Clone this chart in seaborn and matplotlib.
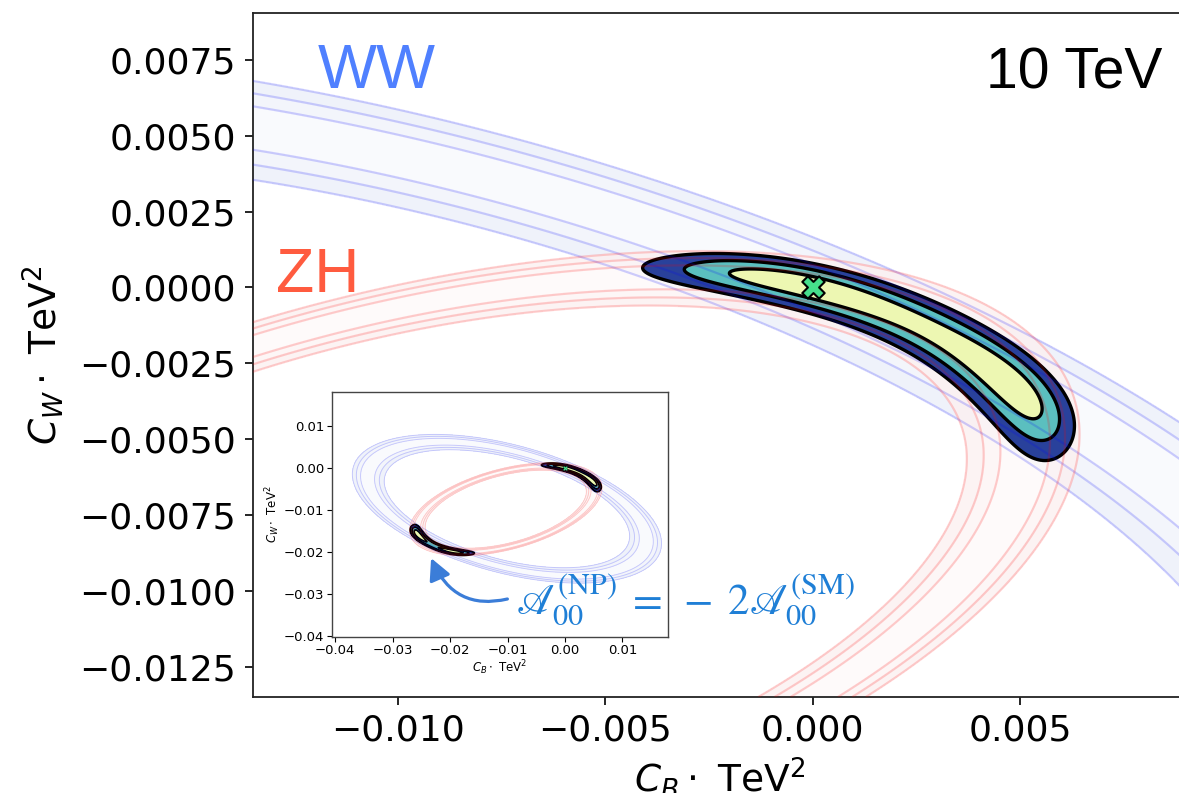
import numpy as np
import matplotlib
matplotlib.use("Agg")
import matplotlib.pyplot as plt
import seaborn as sns
from matplotlib.ticker import MultipleLocator

sns.set_style("ticks")
plt.rcParams["font.family"] = ["DejaVu Sans"]
plt.rcParams["mathtext.fontset"] = "dejavusans"
for key in ("text.color", "axes.labelcolor", "xtick.color", "ytick.color"):
    plt.rcParams[key] = "black"

# Ring of each channel where the cross section equals its SM value:
# centre (units of 1e-3) and quadratic shape [q_BB, q_BW, q_WW]
ZH_CENTER = [-10.308, -9.862]
ZH_SHAPE = [0.005282, -0.003629, 0.012099]
WW_CENTER = [-10.105, -9.757]
WW_SHAPE = [0.002165, 0.001532, 0.005008]

# relative cross-section resolution of each channel
ZH_WIDTH = 0.051
WW_WIDTH = 0.066
FIT_SCALE = 1.2

CHI2_LEVELS = [2.30, 6.18, 11.83]
BEST_CB = [0.0]
BEST_CW = [0.0]

MAIN_XLIM = (-0.0135, 0.009)
MAIN_YLIM = (-0.0135, 0.00905)
INSET_XLIM = (-0.0406, 0.0179)
INSET_YLIM = (-0.0402, 0.0181)


def chi2(X, Y, center, shape, width):
    dx = X * 1e3 - center[0]
    dy = Y * 1e3 - center[1]
    f = shape[0] * dx * dx + 2 * shape[1] * dx * dy + shape[2] * dy * dy - 1.0
    return (f / width) ** 2


def draw_panel(ax, xlim, ylim, n, band_lw, fit_lw):
    xs = np.linspace(*xlim, n)
    ys = np.linspace(*ylim, n)
    X, Y = np.meshgrid(xs, ys)
    chi_ww = chi2(X, Y, WW_CENTER, WW_SHAPE, WW_WIDTH)
    chi_zh = chi2(X, Y, ZH_CENTER, ZH_SHAPE, ZH_WIDTH)
    tot = FIT_SCALE * (chi_ww + chi_zh)
    lv = [0] + CHI2_LEVELS
    ax.contourf(X, Y, chi_ww, levels=lv,
                colors=["#f9fafd", "#f3f5fb", "#eff2fa"], zorder=1)
    ax.contourf(X, Y, chi_zh, levels=lv,
                colors=["#fef9f9", "#fdf4f4", "#fcf0f0"], alpha=0.8, zorder=1)
    ax.contourf(X, Y, tot, levels=lv,
                colors=["#edf7b2", "#5bbfbf", "#29419b"], zorder=2)
    ax.contour(X, Y, tot, levels=CHI2_LEVELS, colors="black",
               linewidths=fit_lw, zorder=3)
    ax.contour(X, Y, chi_ww, levels=CHI2_LEVELS, colors="blue",
               alpha=0.18, linewidths=band_lw, zorder=4)
    ax.contour(X, Y, chi_zh, levels=CHI2_LEVELS, colors="red",
               alpha=0.18, linewidths=band_lw, zorder=4)
    ax.set_xlim(xlim)
    ax.set_ylim(ylim)


fig = plt.figure(figsize=(11.79, 7.93), dpi=100)
ax = fig.add_axes([0.2146, 0.1211, 0.7913, 0.8626])
draw_panel(ax, MAIN_XLIM, MAIN_YLIM, 900, 1.6, 2.4)
sns.scatterplot(x=BEST_CB, y=BEST_CW, marker="X", s=260, color="#46df8c",
                edgecolor="black", linewidth=1.5, zorder=6, ax=ax, legend=False)
ax.set_xlim(MAIN_XLIM)
ax.set_ylim(MAIN_YLIM)
ax.xaxis.set_major_locator(MultipleLocator(0.005))
ax.yaxis.set_major_locator(MultipleLocator(0.0025))
ax.tick_params(direction="out", length=6, width=1.2, labelsize=26, pad=6,
               colors="black")
for s in ax.spines.values():
    s.set_linewidth(1.3)
    s.set_color("#222222")
ax.set_xlabel(r"$C_B \cdot$ TeV$^2$", fontsize=27, labelpad=6)
ax.set_ylabel(r"$C_W \cdot$ TeV$^2$", fontsize=27, labelpad=10)

ax.text(0.0697, 0.890, "WW", transform=ax.transAxes, fontsize=45,
        color="#4f80ff", family="Liberation Sans", ha="left", va="baseline")
ax.text(0.0247, 0.592, "ZH", transform=ax.transAxes, fontsize=45,
        color="#ff5b3f", family="Liberation Sans", ha="left", va="baseline")
ax.text(0.975, 0.890, "10 TeV", transform=ax.transAxes, fontsize=41,
        color="black", family="Liberation Sans", ha="right", va="baseline")

axi = fig.add_axes([0.2813, 0.1971, 0.2852, 0.309])
draw_panel(axi, INSET_XLIM, INSET_YLIM, 700, 0.7, 1.3)
sns.scatterplot(x=BEST_CB, y=BEST_CW, marker="X", s=14, color="#46df8c",
                edgecolor="black", linewidth=0.3, zorder=6, ax=axi, legend=False)
axi.set_xlim(INSET_XLIM)
axi.set_ylim(INSET_YLIM)
axi.xaxis.set_major_locator(MultipleLocator(0.01))
axi.yaxis.set_major_locator(MultipleLocator(0.01))
axi.tick_params(direction="out", length=3.5, width=0.8, labelsize=9.5, pad=2,
                colors="black")
for s in axi.spines.values():
    s.set_linewidth(1.0)
    s.set_color("#444444")
axi.set_xlabel(r"$C_B \cdot$ TeV$^2$", fontsize=8.5, labelpad=1)
axi.set_ylabel(r"$C_W \cdot$ TeV$^2$", fontsize=8.5, labelpad=1)

axi.annotate(r"$\mathscr{A}^{(\mathrm{NP})}_{00}\;=\;-\;2\mathscr{A}^{(\mathrm{SM})}_{00}$",
             xy=(-0.0233, -0.0215), xytext=(-0.00852, -0.03484),
             textcoords="data", ha="left", va="baseline", fontsize=31,
             color="#1f7fd6", math_fontfamily="stix", annotation_clip=False,
             zorder=10,
             arrowprops=dict(arrowstyle="-|>,head_length=0.65,head_width=0.33",
                             mutation_scale=20, color="#3b7dd8", lw=2.3,
                             connectionstyle="arc3,rad=-0.45", relpos=(0, 0.55),
                             shrinkA=4, shrinkB=0))

fig.savefig("out.png", dpi=100)
